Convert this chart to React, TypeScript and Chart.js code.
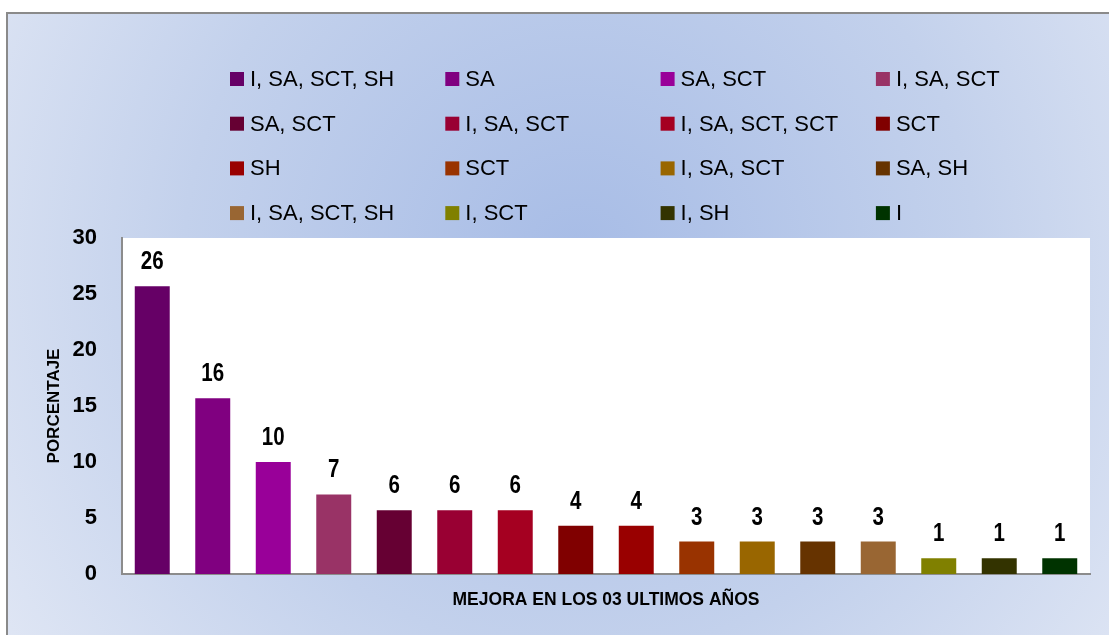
import React, { useEffect, useRef } from "react";
import { Chart, registerables } from "chart.js";

Chart.register(...registerables);

const categories = [
  "I, SA, SCT, SH", "SA", "SA, SCT", "I, SA, SCT",
  "SA, SCT", "I, SA, SCT", "I, SA, SCT, SCT", "SCT",
  "SH", "SCT", "I, SA, SCT", "SA, SH",
  "I, SA, SCT, SH", "I, SCT", "I, SH", "I",
];
const values = [25.7, 15.7, 10.0, 7.1, 5.7, 5.7, 5.7, 4.3, 4.3, 2.9, 2.9, 2.9, 2.9, 1.4, 1.4, 1.4];
const colors = [
  "#660066", "#800080", "#990099", "#993366",
  "#660033", "#990033", "#A50021", "#800000",
  "#990000", "#993300", "#996600", "#663300",
  "#996633", "#808000", "#333300", "#003300",
];
const yTicks = [0, 5, 10, 15, 20, 25, 30];
const yTitle = "PORCENTAJE";
const xTitle = "MEJORA EN LOS 03 ULTIMOS AÑOS";

const REGULAR = "'Liberation Sans', Arial, sans-serif";

const backgroundPlugin = {
  id: "bgFrame",
  beforeDraw(chart: any) {
    const { ctx, width, height, chartArea } = chart;
    ctx.save();
    ctx.fillStyle = "#ffffff";
    ctx.fillRect(0, 0, width, height);
    const g = ctx.createRadialGradient(580, 260, 0, 580, 260, 720);
    g.addColorStop(0, "#a7bce6");
    g.addColorStop(0.55, "#c3d1ec");
    g.addColorStop(1, "#e2e8f5");
    ctx.fillStyle = g;
    ctx.fillRect(7, 13, width, height);
    ctx.strokeStyle = "#8a8a8a";
    ctx.lineWidth = 2;
    ctx.beginPath();
    ctx.moveTo(7, height + 5);
    ctx.lineTo(7, 13);
    ctx.lineTo(width + 5, 13);
    ctx.stroke();
    ctx.fillStyle = "#ffffff";
    ctx.fillRect(chartArea.left, chartArea.top, chartArea.right - chartArea.left, chartArea.bottom - chartArea.top);
    ctx.restore();
  },
};

const legendPlugin = {
  id: "gridLegend",
  afterDraw(chart: any) {
    const { ctx } = chart;
    ctx.save();
    ctx.font = `22px ${REGULAR}`;
    ctx.textBaseline = "middle";
    ctx.textAlign = "left";
    categories.forEach((label, i) => {
      const col = i % 4;
      const row = Math.floor(i / 4);
      const x = 230 + col * 215.3;
      const y = 72 + row * 44.7;
      ctx.fillStyle = colors[i];
      ctx.fillRect(x, y, 14, 14);
      ctx.fillStyle = "#000000";
      ctx.fillText(label, x + 20, y + 8);
    });
    ctx.restore();
  },
};

const valueLabelPlugin = {
  id: "valueLabels",
  afterDatasetsDraw(chart: any) {
    const { ctx } = chart;
    const meta = chart.getDatasetMeta(0);
    ctx.save();
    ctx.font = `bold 25px ${REGULAR}`;
    ctx.fillStyle = "#000000";
    ctx.textAlign = "center";
    ctx.textBaseline = "alphabetic";
    meta.data.forEach((bar: any, i: number) => {
      ctx.save();
      ctx.translate(bar.x, bar.y - 17);
      ctx.scale(0.82, 1);
      ctx.fillText(String(Math.round(values[i])), 0, 0);
      ctx.restore();
    });
    ctx.restore();
  },
};

export default function App() {
  const ref = useRef<HTMLCanvasElement>(null);
  useEffect(() => {
    document.body.style.margin = "0";
    document.body.style.overflow = "hidden";
    const chart = new Chart(ref.current as HTMLCanvasElement, {
      type: "bar",
      data: {
        labels: categories,
        datasets: [
          {
            data: values,
            backgroundColor: colors,
            borderWidth: 0,
            categoryPercentage: 1,
            barPercentage: 0.578,
          },
        ],
      },
      options: {
        animation: false,
        responsive: false,
        devicePixelRatio: 1,
        layout: { padding: { left: 0, top: 238, right: 19, bottom: 0 } },
        plugins: {
          legend: { display: false },
          tooltip: { enabled: false },
        },
        scales: {
          x: {
            grid: { display: false, drawTicks: false },
            border: { display: true, color: "#8c8c8c", width: 2 },
            ticks: { display: false },
            title: {
              display: true,
              text: xTitle,
              color: "#000000",
              font: { family: REGULAR, size: 17.5, weight: "bold" },
              padding: { top: 0, bottom: 24.5 },
            },
            afterFit(scale: any) {
              scale.height = 61;
            },
          },
          y: {
            min: 0,
            max: 30,
            grid: { display: false, drawTicks: false },
            border: { display: true, color: "#8c8c8c", width: 2 },
            afterBuildTicks(scale: any) {
              scale.ticks = yTicks.map((v) => ({ value: v }));
            },
            ticks: {
              color: "#000000",
              padding: 25,
              font: { family: REGULAR, size: 22, weight: "bold" },
            },
            title: {
              display: true,
              text: yTitle,
              color: "#000000",
              font: { family: REGULAR, size: 17, weight: "bold" },
              padding: { top: 44, bottom: 0 },
            },
            afterFit(scale: any) {
              scale.width = 122;
            },
          },
        },
      },
      plugins: [backgroundPlugin, legendPlugin, valueLabelPlugin],
    });
    return () => chart.destroy();
  }, []);
  return (
    <div style={{ width: 1109, height: 635, position: "relative" }}>
      <canvas ref={ref} width={1109} height={635} style={{ display: "block" }} />
    </div>
  );
}
